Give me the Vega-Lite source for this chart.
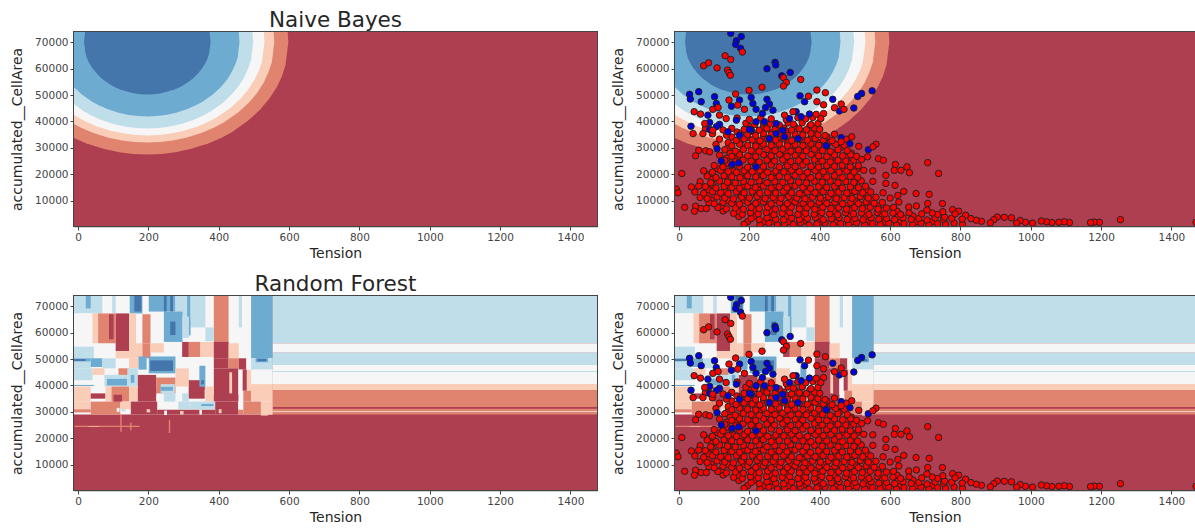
{"$schema":"https://vega.github.io/schema/vega-lite/v6.json","background":"white","padding":{"left":9,"top":8,"right":0,"bottom":1},"columns":2,"spacing":{"row":70,"column":78},"bounds":"flush",
"config":{"font":"DejaVu Sans","view":{"stroke":"#444","strokeWidth":2},"axis":{"grid":false,"labelOverlap":false,"domainColor":"#444","domainWidth":1.5,"tickColor":"#444","tickSize":4,"labelColor":"#444","labelFontSize":10.5,"titleColor":"#262626","titleFontSize":14,"titleFontWeight":"normal","zindex":1},"axisX":{"titlePadding":4},"title":{"fontSize":21.5,"fontWeight":"normal","color":"#262626","offset":1}},
"datasets":{
"base":[{"x":-20,"x2":1500,"y":0,"y2":74000,"k":"r"}],
"nb":[
{"k":"s","y":27500,"x":197,"x2":197},{"k":"s","y":27710,"x":157,"x2":237},{"k":"s","y":28350,"x":117,"x2":277},{"k":"s","y":29625,"x":72,"x2":322},{"k":"s","y":31750,"x":22,"x2":372},{"k":"s","y":33875,"x":-14,"x2":408},{"k":"s","y":36000,"x":-44,"x2":438},{"k":"s","y":40250,"x":-89,"x2":483},{"k":"s","y":44500,"x":-124,"x2":518},{"k":"s","y":48750,"x":-150,"x2":544},{"k":"s","y":53000,"x":-171,"x2":565},{"k":"s","y":57250,"x":-186,"x2":580},{"k":"s","y":61500,"x":-196,"x2":590},{"k":"s","y":70000,"x":-204,"x2":598},{"k":"s","y":74000,"x":-202,"x2":596},
{"k":"p","y":32000,"x":197,"x2":197},{"k":"p","y":32190,"x":161,"x2":233},{"k":"p","y":32760,"x":125,"x2":269},{"k":"p","y":33900,"x":84,"x2":310},{"k":"p","y":35800,"x":40,"x2":354},{"k":"p","y":37700,"x":7,"x2":387},{"k":"p","y":39600,"x":-20,"x2":414},{"k":"p","y":43400,"x":-61,"x2":455},{"k":"p","y":47200,"x":-92,"x2":486},{"k":"p","y":51000,"x":-116,"x2":510},{"k":"p","y":54800,"x":-134,"x2":528},{"k":"p","y":58600,"x":-147,"x2":541},{"k":"p","y":62400,"x":-157,"x2":551},{"k":"p","y":70000,"x":-164,"x2":558},{"k":"p","y":74000,"x":-162,"x2":556},
{"k":"w","y":34700,"x":197,"x2":197},{"k":"w","y":34880,"x":164,"x2":230},{"k":"w","y":35400,"x":131,"x2":263},{"k":"w","y":36470,"x":93,"x2":301},{"k":"w","y":38230,"x":52,"x2":342},{"k":"w","y":40000,"x":22,"x2":372},{"k":"w","y":41760,"x":-3,"x2":397},{"k":"w","y":45290,"x":-41,"x2":435},{"k":"w","y":48820,"x":-69,"x2":463},{"k":"w","y":52350,"x":-91,"x2":485},{"k":"w","y":55880,"x":-108,"x2":502},{"k":"w","y":59410,"x":-121,"x2":515},{"k":"w","y":62940,"x":-129,"x2":523},{"k":"w","y":70000,"x":-136,"x2":530},{"k":"w","y":74000,"x":-134,"x2":528},
{"k":"l","y":37340,"x":197,"x2":197},{"k":"l","y":37500,"x":167,"x2":227},{"k":"l","y":37990,"x":137,"x2":257},{"k":"l","y":38970,"x":103,"x2":291},{"k":"l","y":40600,"x":66,"x2":328},{"k":"l","y":42240,"x":38,"x2":356},{"k":"l","y":43870,"x":16,"x2":378},{"k":"l","y":47140,"x":-18,"x2":412},{"k":"l","y":50400,"x":-44,"x2":438},{"k":"l","y":53670,"x":-64,"x2":458},{"k":"l","y":56940,"x":-79,"x2":473},{"k":"l","y":60200,"x":-90,"x2":484},{"k":"l","y":63470,"x":-98,"x2":492},{"k":"l","y":70000,"x":-104,"x2":498},{"k":"l","y":74000,"x":-102,"x2":496},
{"k":"m","y":41900,"x":197,"x2":197},{"k":"m","y":42040,"x":171,"x2":223},{"k":"m","y":42460,"x":145,"x2":249},{"k":"m","y":43300,"x":115,"x2":279},{"k":"m","y":44710,"x":83,"x2":311},{"k":"m","y":46115,"x":59,"x2":335},{"k":"m","y":47520,"x":40,"x2":354},{"k":"m","y":50330,"x":10,"x2":384},{"k":"m","y":53140,"x":-13,"x2":407},{"k":"m","y":55950,"x":-30,"x2":424},{"k":"m","y":58760,"x":-43,"x2":437},{"k":"m","y":61570,"x":-53,"x2":447},{"k":"m","y":64380,"x":-60,"x2":454},{"k":"m","y":70000,"x":-65,"x2":459},{"k":"m","y":74000,"x":-63,"x2":457},
{"k":"d","y":50250,"x":197,"x2":197},{"k":"d","y":50350,"x":179,"x2":215},{"k":"d","y":50645,"x":161,"x2":233},{"k":"d","y":51240,"x":141,"x2":253},{"k":"d","y":52225,"x":118,"x2":276},{"k":"d","y":53200,"x":102,"x2":292},{"k":"d","y":54200,"x":89,"x2":305},{"k":"d","y":56175,"x":68,"x2":326},{"k":"d","y":58150,"x":53,"x2":341},{"k":"d","y":60125,"x":41,"x2":353},{"k":"d","y":62100,"x":32,"x2":362},{"k":"d","y":64075,"x":25,"x2":369},{"k":"d","y":66050,"x":21,"x2":373},{"k":"d","y":70000,"x":17,"x2":377},{"k":"d","y":74000,"x":20,"x2":374}
],
"rf":[
{"x":-20,"x2":1500,"y":0,"y2":74000,"k":"r"},
{"x":-20,"x2":553,"y":29000,"y2":74000,"k":"w"},
{"x":553,"x2":1500,"y":56000,"y2":74000,"k":"l"},{"x":553,"x2":1500,"y":52400,"y2":56000,"k":"w"},{"x":553,"x2":1500,"y":47800,"y2":52400,"k":"l"},{"x":553,"x2":1500,"y":45500,"y2":47800,"k":"w"},{"x":553,"x2":1500,"y":45100,"y2":45500,"k":"l"},{"x":553,"x2":1500,"y":40600,"y2":45100,"k":"w"},{"x":553,"x2":1500,"y":38300,"y2":40600,"k":"p"},{"x":553,"x2":1500,"y":31800,"y2":38300,"k":"s"},{"x":553,"x2":1500,"y":31200,"y2":31800,"k":"r"},{"x":553,"x2":1500,"y":30400,"y2":31200,"k":"s"},{"x":553,"x2":1500,"y":29800,"y2":30400,"k":"p"},{"x":553,"x2":1500,"y":29000,"y2":29800,"k":"s"},
{"x":-20,"x2":69,"y":67300,"y2":74000,"k":"l"},{"x":22,"x2":36,"y":69200,"y2":74000,"k":"m"},{"x":97,"x2":107,"y":67300,"y2":74000,"k":"l"},{"x":147,"x2":183,"y":67300,"y2":74000,"k":"m"},{"x":160,"x2":180,"y":68000,"y2":74000,"k":"d"},{"x":201,"x2":277,"y":68000,"y2":74000,"k":"m"},{"x":244,"x2":252,"y":68000,"y2":74000,"k":"d"},{"x":262,"x2":270,"y":68000,"y2":74000,"k":"d"},{"x":277,"x2":310,"y":66000,"y2":74000,"k":"l"},{"x":310,"x2":320,"y":66000,"y2":74000,"k":"m"},{"x":320,"x2":362,"y":62000,"y2":74000,"k":"l"},{"x":386,"x2":428,"y":50300,"y2":74000,"k":"s"},{"x":457,"x2":466,"y":62000,"y2":74000,"k":"l"},
{"x":-20,"x2":41,"y":56000,"y2":67300,"k":"w"},{"x":41,"x2":57,"y":56000,"y2":67300,"k":"p"},{"x":57,"x2":107,"y":56000,"y2":67300,"k":"s"},{"x":88,"x2":101,"y":57500,"y2":67000,"k":"r"},{"x":107,"x2":145,"y":53000,"y2":67300,"k":"r"},{"x":145,"x2":165,"y":55000,"y2":67300,"k":"p"},{"x":183,"x2":206,"y":56000,"y2":67000,"k":"s"},{"x":244,"x2":297,"y":56500,"y2":68000,"k":"m"},{"x":262,"x2":277,"y":59100,"y2":64200,"k":"d"},{"x":297,"x2":315,"y":58000,"y2":66000,"k":"l"},{"x":315,"x2":320,"y":59000,"y2":66000,"k":"m"},{"x":362,"x2":386,"y":56800,"y2":62000,"k":"l"},
{"x":-20,"x2":45,"y":50300,"y2":54700,"k":"l"},{"x":107,"x2":145,"y":50300,"y2":53000,"k":"p"},{"x":145,"x2":183,"y":50300,"y2":56000,"k":"p"},{"x":183,"x2":206,"y":50300,"y2":56000,"k":"s"},{"x":206,"x2":244,"y":52500,"y2":56000,"k":"p"},{"x":296,"x2":315,"y":50800,"y2":56500,"k":"r"},{"x":315,"x2":348,"y":50800,"y2":56500,"k":"s"},{"x":348,"x2":386,"y":50800,"y2":56500,"k":"p"},{"x":386,"x2":428,"y":50300,"y2":56500,"k":"r"},{"x":428,"x2":457,"y":50300,"y2":56000,"k":"p"},
{"x":-20,"x2":36,"y":49000,"y2":50300,"k":"m"},{"x":-20,"x2":22,"y":49300,"y2":50000,"k":"d"},{"x":-20,"x2":36,"y":46500,"y2":49000,"k":"l"},{"x":36,"x2":69,"y":47000,"y2":50300,"k":"m"},{"x":69,"x2":107,"y":46500,"y2":50300,"k":"l"},{"x":145,"x2":172,"y":46500,"y2":50300,"k":"p"},{"x":172,"x2":195,"y":46000,"y2":51000,"k":"m"},{"x":201,"x2":277,"y":44600,"y2":51000,"k":"m"},{"x":205,"x2":270,"y":45500,"y2":49500,"k":"d"},{"x":386,"x2":428,"y":46500,"y2":50300,"k":"r"},{"x":428,"x2":457,"y":46500,"y2":50300,"k":"s"},{"x":457,"x2":478,"y":46000,"y2":50300,"k":"r"},
{"x":492,"x2":553,"y":50300,"y2":74000,"k":"m"},{"x":492,"x2":553,"y":46000,"y2":50300,"k":"l"},{"x":505,"x2":540,"y":48800,"y2":50500,"k":"m"},{"x":510,"x2":535,"y":49200,"y2":50000,"k":"d"},{"x":500,"x2":540,"y":45300,"y2":45700,"k":"l"},{"x":492,"x2":553,"y":40500,"y2":44000,"k":"w"},{"x":492,"x2":553,"y":44000,"y2":46000,"k":"w"},
{"x":-20,"x2":41,"y":42000,"y2":46500,"k":"l"},{"x":-20,"x2":45,"y":39800,"y2":40200,"k":"m"},{"x":41,"x2":75,"y":44000,"y2":46500,"k":"p"},{"x":75,"x2":140,"y":39600,"y2":44000,"k":"l"},{"x":82,"x2":140,"y":40000,"y2":42500,"k":"m"},{"x":115,"x2":145,"y":44000,"y2":46500,"k":"s"},{"x":140,"x2":170,"y":39600,"y2":46500,"k":"l"},{"x":150,"x2":160,"y":41000,"y2":44000,"k":"m"},{"x":170,"x2":222,"y":36000,"y2":44000,"k":"r"},{"x":222,"x2":277,"y":37000,"y2":43000,"k":"s"},{"x":235,"x2":275,"y":37000,"y2":40500,"k":"l"},{"x":235,"x2":270,"y":38000,"y2":39500,"k":"m"},{"x":277,"x2":315,"y":39600,"y2":46500,"k":"p"},{"x":315,"x2":348,"y":36000,"y2":42000,"k":"r"},{"x":345,"x2":362,"y":38500,"y2":47500,"k":"m"},{"x":350,"x2":358,"y":40500,"y2":42000,"k":"d"},{"x":386,"x2":456,"y":36000,"y2":46500,"k":"r"},{"x":430,"x2":438,"y":37000,"y2":45000,"k":"p"},{"x":456,"x2":468,"y":36000,"y2":46000,"k":"w"},{"x":468,"x2":480,"y":38000,"y2":46000,"k":"r"},{"x":480,"x2":492,"y":35000,"y2":46000,"k":"p"},
{"x":-20,"x2":36,"y":33900,"y2":39600,"k":"p"},{"x":36,"x2":78,"y":35000,"y2":37000,"k":"r"},{"x":78,"x2":95,"y":33900,"y2":39600,"k":"p"},{"x":95,"x2":145,"y":33900,"y2":39600,"k":"s"},{"x":101,"x2":125,"y":33500,"y2":36500,"k":"r"},{"x":145,"x2":170,"y":33900,"y2":39600,"k":"p"},{"x":170,"x2":222,"y":33900,"y2":39000,"k":"r"},{"x":244,"x2":277,"y":33900,"y2":37000,"k":"l"},{"x":296,"x2":315,"y":33900,"y2":37000,"k":"l"},{"x":315,"x2":360,"y":35000,"y2":39500,"k":"r"},{"x":362,"x2":386,"y":33900,"y2":39600,"k":"p"},{"x":386,"x2":456,"y":33900,"y2":36500,"k":"r"},{"x":470,"x2":492,"y":33900,"y2":38000,"k":"s"},{"x":492,"x2":553,"y":33900,"y2":40500,"k":"p"},
{"x":-20,"x2":36,"y":31000,"y2":33900,"k":"p"},{"x":-20,"x2":36,"y":29800,"y2":31000,"k":"s"},{"x":36,"x2":120,"y":29000,"y2":33900,"k":"s"},{"x":120,"x2":150,"y":31000,"y2":33900,"k":"p"},{"x":150,"x2":225,"y":29000,"y2":33900,"k":"r"},{"x":285,"x2":320,"y":31000,"y2":33900,"k":"l"},{"x":320,"x2":390,"y":31000,"y2":33900,"k":"l"},{"x":350,"x2":385,"y":32200,"y2":33000,"k":"m"},{"x":390,"x2":455,"y":29000,"y2":33900,"k":"r"},{"x":470,"x2":520,"y":29000,"y2":33900,"k":"s"},{"x":520,"x2":553,"y":29000,"y2":33900,"k":"p"},{"x":225,"x2":390,"y":29000,"y2":30800,"k":"r"},{"x":455,"x2":470,"y":29000,"y2":30800,"k":"s"},
{"x":110,"x2":118,"y":30000,"y2":31500,"k":"w"},{"x":125,"x2":135,"y":30200,"y2":31000,"k":"l"},{"x":195,"x2":205,"y":29800,"y2":31000,"k":"p"},{"x":245,"x2":253,"y":28800,"y2":30500,"k":"w"},{"x":290,"x2":300,"y":29000,"y2":30300,"k":"p"},{"x":345,"x2":352,"y":29000,"y2":30800,"k":"w"},{"x":400,"x2":408,"y":29500,"y2":31000,"k":"p"},{"x":520,"x2":540,"y":28600,"y2":29400,"k":"p"},
{"x":-10,"x2":175,"y":24300,"y2":24700,"k":"s"},{"x":30,"x2":60,"y":24400,"y2":24600,"k":"p"},{"x":120,"x2":124,"y":22500,"y2":29000,"k":"s"},{"x":148,"x2":152,"y":23000,"y2":26000,"k":"s"},{"x":258,"x2":262,"y":22000,"y2":27000,"k":"s"}
],
"pts":[
{"x":195,"y":2100,"k":"R"},{"x":240,"y":1900,"k":"R"},{"x":265,"y":2200,"k":"R"},{"x":310,"y":2000,"k":"R"},{"x":355,"y":2300,"k":"R"},{"x":402,"y":1900,"k":"R"},{"x":448,"y":2200,"k":"R"},{"x":492,"y":2000,"k":"R"},{"x":540,"y":2300,"k":"R"},{"x":585,"y":1900,"k":"R"},{"x":630,"y":2200,"k":"R"},{"x":675,"y":2000,"k":"R"},{"x":720,"y":2100,"k":"R"},
{"x":170,"y":4000,"k":"R"},{"x":215,"y":4200,"k":"R"},{"x":262,"y":3900,"k":"R"},{"x":308,"y":4300,"k":"R"},{"x":352,"y":4000,"k":"R"},{"x":398,"y":4200,"k":"R"},{"x":442,"y":3900,"k":"R"},{"x":488,"y":4200,"k":"R"},{"x":530,"y":4000,"k":"R"},{"x":578,"y":4300,"k":"R"},{"x":622,"y":3900,"k":"R"},{"x":665,"y":4200,"k":"R"},
{"x":125,"y":6100,"k":"R"},{"x":170,"y":5900,"k":"R"},{"x":216,"y":6200,"k":"R"},{"x":262,"y":6000,"k":"R"},{"x":308,"y":6300,"k":"R"},{"x":353,"y":5900,"k":"R"},{"x":398,"y":6200,"k":"R"},{"x":443,"y":6000,"k":"R"},{"x":488,"y":6300,"k":"R"},{"x":533,"y":5900,"k":"R"},{"x":578,"y":6200,"k":"R"},{"x":620,"y":6000,"k":"R"},
{"x":120,"y":8000,"k":"R"},{"x":162,"y":8200,"k":"R"},{"x":206,"y":7900,"k":"R"},{"x":250,"y":8300,"k":"R"},{"x":296,"y":8000,"k":"R"},{"x":342,"y":8200,"k":"R"},{"x":386,"y":7900,"k":"R"},{"x":432,"y":8200,"k":"R"},{"x":476,"y":8000,"k":"R"},{"x":522,"y":8300,"k":"R"},{"x":566,"y":7900,"k":"R"},
{"x":92,"y":10100,"k":"R"},{"x":140,"y":9900,"k":"R"},{"x":185,"y":10200,"k":"R"},{"x":230,"y":10000,"k":"R"},{"x":276,"y":10300,"k":"R"},{"x":320,"y":9900,"k":"R"},{"x":365,"y":10200,"k":"R"},{"x":410,"y":10000,"k":"R"},{"x":455,"y":10300,"k":"R"},{"x":500,"y":9900,"k":"R"},{"x":546,"y":10200,"k":"R"},
{"x":85,"y":12000,"k":"R"},{"x":130,"y":12200,"k":"R"},{"x":175,"y":11900,"k":"R"},{"x":220,"y":12300,"k":"R"},{"x":262,"y":12000,"k":"R"},{"x":308,"y":12200,"k":"R"},{"x":352,"y":11900,"k":"R"},{"x":398,"y":12200,"k":"R"},{"x":442,"y":12000,"k":"R"},{"x":488,"y":12300,"k":"R"},{"x":534,"y":11900,"k":"R"},
{"x":85,"y":14100,"k":"R"},{"x":130,"y":13900,"k":"R"},{"x":178,"y":14200,"k":"R"},{"x":224,"y":14000,"k":"R"},{"x":268,"y":14300,"k":"R"},{"x":312,"y":13900,"k":"R"},{"x":358,"y":14200,"k":"R"},{"x":402,"y":14000,"k":"R"},{"x":446,"y":14300,"k":"R"},{"x":490,"y":13900,"k":"R"},{"x":535,"y":14200,"k":"R"},
{"x":95,"y":16000,"k":"R"},{"x":140,"y":16200,"k":"R"},{"x":184,"y":15900,"k":"R"},{"x":228,"y":16300,"k":"R"},{"x":274,"y":16000,"k":"R"},{"x":318,"y":16200,"k":"R"},{"x":362,"y":15900,"k":"R"},{"x":408,"y":16200,"k":"R"},{"x":452,"y":16000,"k":"R"},{"x":498,"y":16300,"k":"R"},
{"x":95,"y":18100,"k":"R"},{"x":140,"y":17900,"k":"R"},{"x":184,"y":18200,"k":"R"},{"x":230,"y":18000,"k":"R"},{"x":274,"y":18300,"k":"R"},{"x":318,"y":17900,"k":"R"},{"x":364,"y":18200,"k":"R"},{"x":408,"y":18000,"k":"R"},{"x":452,"y":18300,"k":"R"},{"x":498,"y":17900,"k":"R"},
{"x":85,"y":20000,"k":"R"},{"x":130,"y":20200,"k":"R"},{"x":175,"y":19900,"k":"R"},{"x":220,"y":20300,"k":"R"},{"x":264,"y":20000,"k":"R"},{"x":308,"y":20200,"k":"R"},{"x":354,"y":19900,"k":"R"},{"x":398,"y":20200,"k":"R"},{"x":442,"y":20000,"k":"R"},{"x":488,"y":20300,"k":"R"},
{"x":110,"y":22100,"k":"R"},{"x":152,"y":21900,"k":"R"},{"x":196,"y":22200,"k":"R"},{"x":240,"y":22000,"k":"R"},{"x":286,"y":22300,"k":"R"},{"x":330,"y":21900,"k":"R"},{"x":376,"y":22200,"k":"R"},{"x":420,"y":22000,"k":"R"},{"x":466,"y":22300,"k":"R"},{"x":505,"y":21900,"k":"R"},
{"x":140,"y":24000,"k":"R"},{"x":172,"y":24200,"k":"R"},{"x":216,"y":23900,"k":"R"},{"x":262,"y":24300,"k":"R"},{"x":306,"y":24000,"k":"R"},{"x":352,"y":24200,"k":"R"},{"x":396,"y":23900,"k":"R"},{"x":442,"y":24200,"k":"R"},{"x":486,"y":24000,"k":"R"},
{"x":135,"y":26100,"k":"R"},{"x":162,"y":25900,"k":"R"},{"x":206,"y":26200,"k":"R"},{"x":252,"y":26000,"k":"R"},{"x":296,"y":26300,"k":"R"},{"x":342,"y":25900,"k":"R"},{"x":386,"y":26200,"k":"R"},{"x":430,"y":26000,"k":"R"},{"x":476,"y":26300,"k":"R"},
{"x":145,"y":28000,"k":"R"},{"x":172,"y":28200,"k":"R"},{"x":218,"y":27900,"k":"R"},{"x":262,"y":28300,"k":"R"},{"x":306,"y":28000,"k":"R"},{"x":352,"y":28200,"k":"R"},{"x":396,"y":27900,"k":"R"},{"x":440,"y":28200,"k":"R"},{"x":490,"y":28000,"k":"R"},
{"x":140,"y":30100,"k":"R"},{"x":184,"y":29900,"k":"R"},{"x":230,"y":30200,"k":"R"},{"x":274,"y":30000,"k":"R"},{"x":320,"y":30300,"k":"R"},{"x":364,"y":29900,"k":"R"},{"x":408,"y":30200,"k":"R"},{"x":458,"y":30000,"k":"R"},
{"x":140,"y":32000,"k":"R"},{"x":174,"y":32200,"k":"R"},{"x":218,"y":31900,"k":"R"},{"x":264,"y":32300,"k":"R"},{"x":308,"y":32000,"k":"R"},{"x":352,"y":32200,"k":"R"},{"x":398,"y":31900,"k":"R"},{"x":430,"y":32200,"k":"R"},{"x":460,"y":32000,"k":"R"},
{"x":150,"y":34100,"k":"R"},{"x":196,"y":33900,"k":"R"},{"x":240,"y":34200,"k":"R"},{"x":286,"y":34000,"k":"R"},{"x":330,"y":34300,"k":"R"},{"x":376,"y":33900,"k":"R"},{"x":420,"y":34200,"k":"R"},
{"x":165,"y":36000,"k":"R"},{"x":208,"y":36200,"k":"R"},{"x":262,"y":35900,"k":"R"},{"x":308,"y":36300,"k":"R"},{"x":352,"y":36000,"k":"R"},{"x":392,"y":36200,"k":"R"},
{"x":200,"y":38100,"k":"R"},{"x":240,"y":37900,"k":"R"},{"x":285,"y":38200,"k":"R"},{"x":330,"y":38000,"k":"R"},{"x":372,"y":38300,"k":"R"},
{"x":185,"y":1100,"k":"R"},{"x":230,"y":900,"k":"R"},{"x":255,"y":1500,"k":"R"},{"x":280,"y":800,"k":"R"},{"x":300,"y":1300,"k":"R"},{"x":325,"y":1000,"k":"R"},{"x":345,"y":1600,"k":"R"},{"x":370,"y":800,"k":"R"},{"x":392,"y":1200,"k":"R"},{"x":415,"y":1500,"k":"R"},{"x":438,"y":900,"k":"R"},{"x":460,"y":1300,"k":"R"},{"x":482,"y":1000,"k":"R"},{"x":505,"y":1600,"k":"R"},{"x":528,"y":900,"k":"R"},{"x":550,"y":1300,"k":"R"},{"x":572,"y":1000,"k":"R"},{"x":596,"y":1500,"k":"R"},{"x":618,"y":800,"k":"R"},{"x":640,"y":1300,"k":"R"},{"x":664,"y":1000,"k":"R"},{"x":688,"y":1500,"k":"R"},{"x":710,"y":900,"k":"R"},{"x":735,"y":1300,"k":"R"},{"x":758,"y":1100,"k":"R"},{"x":782,"y":1500,"k":"R"},{"x":806,"y":1000,"k":"R"},
{"x":205,"y":3200,"k":"R"},{"x":228,"y":2800,"k":"R"},{"x":250,"y":3500,"k":"R"},{"x":275,"y":3000,"k":"R"},{"x":297,"y":2700,"k":"R"},{"x":320,"y":3400,"k":"R"},{"x":342,"y":2900,"k":"R"},{"x":365,"y":3300,"k":"R"},{"x":388,"y":3600,"k":"R"},{"x":410,"y":2800,"k":"R"},{"x":433,"y":3200,"k":"R"},{"x":455,"y":3500,"k":"R"},{"x":478,"y":2900,"k":"R"},{"x":500,"y":3300,"k":"R"},{"x":523,"y":2700,"k":"R"},{"x":546,"y":3500,"k":"R"},{"x":568,"y":3000,"k":"R"},{"x":590,"y":3300,"k":"R"},{"x":613,"y":2800,"k":"R"},{"x":637,"y":3500,"k":"R"},{"x":660,"y":2900,"k":"R"},{"x":682,"y":3300,"k":"R"},{"x":705,"y":2700,"k":"R"},{"x":728,"y":3400,"k":"R"},{"x":752,"y":3000,"k":"R"},{"x":775,"y":3300,"k":"R"},
{"x":155,"y":5200,"k":"R"},{"x":180,"y":4800,"k":"R"},{"x":203,"y":5400,"k":"R"},{"x":225,"y":5000,"k":"R"},{"x":248,"y":5500,"k":"R"},{"x":270,"y":4700,"k":"R"},{"x":293,"y":5200,"k":"R"},{"x":315,"y":5500,"k":"R"},{"x":338,"y":4800,"k":"R"},{"x":360,"y":5200,"k":"R"},{"x":384,"y":4900,"k":"R"},{"x":406,"y":5500,"k":"R"},{"x":428,"y":5000,"k":"R"},{"x":451,"y":4700,"k":"R"},{"x":473,"y":5400,"k":"R"},{"x":496,"y":5000,"k":"R"},{"x":518,"y":5300,"k":"R"},{"x":540,"y":4800,"k":"R"},{"x":563,"y":5500,"k":"R"},{"x":585,"y":5000,"k":"R"},{"x":608,"y":5300,"k":"R"},{"x":630,"y":4800,"k":"R"},{"x":654,"y":5400,"k":"R"},
{"x":110,"y":7400,"k":"R"},{"x":135,"y":6900,"k":"R"},{"x":160,"y":7200,"k":"R"},{"x":183,"y":6800,"k":"R"},{"x":205,"y":7400,"k":"R"},{"x":228,"y":7000,"k":"R"},{"x":252,"y":7500,"k":"R"},{"x":274,"y":6800,"k":"R"},{"x":297,"y":7200,"k":"R"},{"x":319,"y":7500,"k":"R"},{"x":342,"y":6900,"k":"R"},{"x":364,"y":7300,"k":"R"},{"x":386,"y":6800,"k":"R"},{"x":409,"y":7500,"k":"R"},{"x":432,"y":7000,"k":"R"},{"x":454,"y":7300,"k":"R"},{"x":476,"y":6800,"k":"R"},{"x":499,"y":7400,"k":"R"},{"x":521,"y":7000,"k":"R"},{"x":544,"y":7500,"k":"R"},{"x":566,"y":6800,"k":"R"},{"x":590,"y":7200,"k":"R"},
{"x":85,"y":9300,"k":"R"},{"x":100,"y":8800,"k":"R"},{"x":125,"y":9400,"k":"R"},{"x":150,"y":9000,"k":"R"},{"x":172,"y":8700,"k":"R"},{"x":195,"y":9400,"k":"R"},{"x":218,"y":9000,"k":"R"},{"x":240,"y":9500,"k":"R"},{"x":262,"y":8800,"k":"R"},{"x":286,"y":9300,"k":"R"},{"x":308,"y":8900,"k":"R"},{"x":330,"y":9500,"k":"R"},{"x":353,"y":9000,"k":"R"},{"x":375,"y":8700,"k":"R"},{"x":398,"y":9400,"k":"R"},{"x":420,"y":9000,"k":"R"},{"x":443,"y":9400,"k":"R"},{"x":465,"y":8800,"k":"R"},{"x":488,"y":9300,"k":"R"},{"x":510,"y":8900,"k":"R"},{"x":532,"y":9500,"k":"R"},{"x":555,"y":9000,"k":"R"},{"x":578,"y":9300,"k":"R"},
{"x":60,"y":11200,"k":"R"},{"x":80,"y":10800,"k":"R"},{"x":108,"y":11400,"k":"R"},{"x":130,"y":11000,"k":"R"},{"x":155,"y":10700,"k":"R"},{"x":178,"y":11300,"k":"R"},{"x":200,"y":11000,"k":"R"},{"x":222,"y":11500,"k":"R"},{"x":245,"y":10800,"k":"R"},{"x":268,"y":11200,"k":"R"},{"x":290,"y":10900,"k":"R"},{"x":312,"y":11500,"k":"R"},{"x":335,"y":11000,"k":"R"},{"x":358,"y":10700,"k":"R"},{"x":380,"y":11300,"k":"R"},{"x":402,"y":11000,"k":"R"},{"x":425,"y":11400,"k":"R"},{"x":447,"y":10800,"k":"R"},{"x":470,"y":11200,"k":"R"},{"x":492,"y":10900,"k":"R"},{"x":515,"y":11500,"k":"R"},{"x":538,"y":11000,"k":"R"},{"x":560,"y":11300,"k":"R"},
{"x":45,"y":13300,"k":"R"},{"x":70,"y":12800,"k":"R"},{"x":95,"y":13400,"k":"R"},{"x":118,"y":13000,"k":"R"},{"x":140,"y":12700,"k":"R"},{"x":163,"y":13400,"k":"R"},{"x":185,"y":13000,"k":"R"},{"x":208,"y":13500,"k":"R"},{"x":230,"y":12800,"k":"R"},{"x":252,"y":13200,"k":"R"},{"x":275,"y":12900,"k":"R"},{"x":297,"y":13500,"k":"R"},{"x":320,"y":13000,"k":"R"},{"x":342,"y":12700,"k":"R"},{"x":365,"y":13300,"k":"R"},{"x":387,"y":13000,"k":"R"},{"x":410,"y":13400,"k":"R"},{"x":432,"y":12800,"k":"R"},{"x":454,"y":13200,"k":"R"},{"x":477,"y":12900,"k":"R"},{"x":500,"y":13500,"k":"R"},{"x":522,"y":13000,"k":"R"},{"x":545,"y":13300,"k":"R"},
{"x":75,"y":15300,"k":"R"},{"x":105,"y":14800,"k":"R"},{"x":128,"y":15400,"k":"R"},{"x":150,"y":15000,"k":"R"},{"x":172,"y":14700,"k":"R"},{"x":195,"y":15400,"k":"R"},{"x":217,"y":15000,"k":"R"},{"x":240,"y":15500,"k":"R"},{"x":262,"y":14800,"k":"R"},{"x":285,"y":15200,"k":"R"},{"x":307,"y":14900,"k":"R"},{"x":330,"y":15500,"k":"R"},{"x":352,"y":15000,"k":"R"},{"x":374,"y":14700,"k":"R"},{"x":397,"y":15300,"k":"R"},{"x":420,"y":15000,"k":"R"},{"x":442,"y":15400,"k":"R"},{"x":464,"y":14800,"k":"R"},{"x":487,"y":15200,"k":"R"},{"x":510,"y":14900,"k":"R"},{"x":530,"y":15500,"k":"R"},
{"x":60,"y":17200,"k":"R"},{"x":90,"y":16800,"k":"R"},{"x":115,"y":17400,"k":"R"},{"x":138,"y":17000,"k":"R"},{"x":160,"y":16700,"k":"R"},{"x":183,"y":17300,"k":"R"},{"x":205,"y":17000,"k":"R"},{"x":228,"y":17500,"k":"R"},{"x":250,"y":16800,"k":"R"},{"x":272,"y":17200,"k":"R"},{"x":295,"y":16900,"k":"R"},{"x":317,"y":17500,"k":"R"},{"x":340,"y":17000,"k":"R"},{"x":362,"y":16700,"k":"R"},{"x":385,"y":17300,"k":"R"},{"x":407,"y":17000,"k":"R"},{"x":430,"y":17400,"k":"R"},{"x":452,"y":16800,"k":"R"},{"x":474,"y":17200,"k":"R"},{"x":497,"y":16900,"k":"R"},{"x":518,"y":17500,"k":"R"},
{"x":80,"y":19300,"k":"R"},{"x":105,"y":18800,"k":"R"},{"x":128,"y":19400,"k":"R"},{"x":150,"y":19000,"k":"R"},{"x":173,"y":18700,"k":"R"},{"x":195,"y":19400,"k":"R"},{"x":218,"y":19000,"k":"R"},{"x":240,"y":19500,"k":"R"},{"x":262,"y":18800,"k":"R"},{"x":285,"y":19200,"k":"R"},{"x":308,"y":18900,"k":"R"},{"x":330,"y":19500,"k":"R"},{"x":352,"y":19000,"k":"R"},{"x":375,"y":18700,"k":"R"},{"x":397,"y":19300,"k":"R"},{"x":420,"y":19000,"k":"R"},{"x":442,"y":19400,"k":"R"},{"x":465,"y":18800,"k":"R"},{"x":487,"y":19200,"k":"R"},{"x":508,"y":18900,"k":"R"},
{"x":70,"y":21300,"k":"R"},{"x":95,"y":20800,"k":"R"},{"x":118,"y":21400,"k":"R"},{"x":140,"y":21000,"k":"R"},{"x":163,"y":20700,"k":"R"},{"x":185,"y":21300,"k":"R"},{"x":208,"y":21000,"k":"R"},{"x":230,"y":21500,"k":"R"},{"x":252,"y":20800,"k":"R"},{"x":275,"y":21200,"k":"R"},{"x":298,"y":20900,"k":"R"},{"x":320,"y":21500,"k":"R"},{"x":342,"y":21000,"k":"R"},{"x":365,"y":20700,"k":"R"},{"x":387,"y":21300,"k":"R"},{"x":410,"y":21000,"k":"R"},{"x":432,"y":21400,"k":"R"},{"x":455,"y":20800,"k":"R"},{"x":477,"y":21200,"k":"R"},{"x":498,"y":20900,"k":"R"},{"x":525,"y":21500,"k":"R"},
{"x":100,"y":23300,"k":"R"},{"x":125,"y":22800,"k":"R"},{"x":150,"y":23400,"k":"R"},{"x":172,"y":23000,"k":"R"},{"x":195,"y":22700,"k":"R"},{"x":218,"y":23400,"k":"R"},{"x":240,"y":23000,"k":"R"},{"x":262,"y":23500,"k":"R"},{"x":285,"y":22800,"k":"R"},{"x":308,"y":23200,"k":"R"},{"x":330,"y":22900,"k":"R"},{"x":352,"y":23500,"k":"R"},{"x":375,"y":23000,"k":"R"},{"x":397,"y":22700,"k":"R"},{"x":420,"y":23300,"k":"R"},{"x":442,"y":23000,"k":"R"},{"x":464,"y":23400,"k":"R"},{"x":487,"y":22800,"k":"R"},{"x":510,"y":23200,"k":"R"},
{"x":130,"y":25300,"k":"R"},{"x":160,"y":24800,"k":"R"},{"x":182,"y":25400,"k":"R"},{"x":205,"y":25000,"k":"R"},{"x":228,"y":24700,"k":"R"},{"x":250,"y":25400,"k":"R"},{"x":272,"y":25000,"k":"R"},{"x":295,"y":25500,"k":"R"},{"x":318,"y":24800,"k":"R"},{"x":340,"y":25200,"k":"R"},{"x":362,"y":24900,"k":"R"},{"x":385,"y":25500,"k":"R"},{"x":407,"y":25000,"k":"R"},{"x":430,"y":24700,"k":"R"},{"x":452,"y":25300,"k":"R"},{"x":474,"y":25000,"k":"R"},{"x":497,"y":25400,"k":"R"},
{"x":115,"y":27300,"k":"R"},{"x":150,"y":26800,"k":"R"},{"x":172,"y":27400,"k":"R"},{"x":195,"y":27000,"k":"R"},{"x":218,"y":26700,"k":"R"},{"x":240,"y":27400,"k":"R"},{"x":262,"y":27000,"k":"R"},{"x":285,"y":27500,"k":"R"},{"x":307,"y":26800,"k":"R"},{"x":330,"y":27200,"k":"R"},{"x":352,"y":26900,"k":"R"},{"x":375,"y":27500,"k":"R"},{"x":397,"y":27000,"k":"R"},{"x":420,"y":26700,"k":"R"},{"x":442,"y":27300,"k":"R"},{"x":465,"y":27000,"k":"R"},{"x":488,"y":27400,"k":"R"},{"x":505,"y":26800,"k":"R"},
{"x":130,"y":29300,"k":"R"},{"x":160,"y":28800,"k":"R"},{"x":183,"y":29400,"k":"R"},{"x":205,"y":29000,"k":"R"},{"x":228,"y":28700,"k":"R"},{"x":250,"y":29400,"k":"R"},{"x":273,"y":29000,"k":"R"},{"x":295,"y":29500,"k":"R"},{"x":318,"y":28800,"k":"R"},{"x":340,"y":29200,"k":"R"},{"x":362,"y":28900,"k":"R"},{"x":385,"y":29500,"k":"R"},{"x":408,"y":29000,"k":"R"},{"x":430,"y":28700,"k":"R"},{"x":452,"y":29300,"k":"R"},{"x":478,"y":29000,"k":"R"},
{"x":105,"y":31300,"k":"R"},{"x":150,"y":30800,"k":"R"},{"x":172,"y":31400,"k":"R"},{"x":195,"y":31000,"k":"R"},{"x":218,"y":30700,"k":"R"},{"x":240,"y":31400,"k":"R"},{"x":262,"y":31000,"k":"R"},{"x":285,"y":31500,"k":"R"},{"x":308,"y":30800,"k":"R"},{"x":330,"y":31200,"k":"R"},{"x":352,"y":30900,"k":"R"},{"x":375,"y":31500,"k":"R"},{"x":397,"y":31000,"k":"R"},{"x":420,"y":30700,"k":"R"},{"x":445,"y":31300,"k":"R"},{"x":470,"y":31000,"k":"R"},
{"x":115,"y":33300,"k":"R"},{"x":162,"y":32800,"k":"R"},{"x":185,"y":33400,"k":"R"},{"x":208,"y":33000,"k":"R"},{"x":230,"y":32700,"k":"R"},{"x":252,"y":33400,"k":"R"},{"x":275,"y":33000,"k":"R"},{"x":298,"y":33500,"k":"R"},{"x":320,"y":32800,"k":"R"},{"x":342,"y":33200,"k":"R"},{"x":365,"y":32900,"k":"R"},{"x":387,"y":33500,"k":"R"},{"x":410,"y":33000,"k":"R"},{"x":435,"y":32700,"k":"R"},{"x":475,"y":33300,"k":"R"},
{"x":95,"y":35300,"k":"R"},{"x":135,"y":34800,"k":"R"},{"x":175,"y":35400,"k":"R"},{"x":195,"y":35000,"k":"R"},{"x":218,"y":34700,"k":"R"},{"x":240,"y":35400,"k":"R"},{"x":262,"y":35000,"k":"R"},{"x":285,"y":35500,"k":"R"},{"x":308,"y":34800,"k":"R"},{"x":330,"y":35200,"k":"R"},{"x":352,"y":34900,"k":"R"},{"x":375,"y":35500,"k":"R"},{"x":395,"y":35000,"k":"R"},{"x":415,"y":34700,"k":"R"},
{"x":75,"y":37300,"k":"R"},{"x":125,"y":36800,"k":"R"},{"x":150,"y":37400,"k":"R"},{"x":185,"y":37000,"k":"R"},{"x":228,"y":36700,"k":"R"},{"x":250,"y":37400,"k":"R"},{"x":273,"y":37000,"k":"R"},{"x":298,"y":37500,"k":"R"},{"x":320,"y":36800,"k":"R"},{"x":342,"y":37200,"k":"R"},{"x":362,"y":36900,"k":"R"},{"x":385,"y":37500,"k":"R"},{"x":400,"y":37000,"k":"R"},
{"x":190,"y":39300,"k":"R"},{"x":215,"y":38800,"k":"R"},{"x":240,"y":39400,"k":"R"},{"x":260,"y":39000,"k":"R"},{"x":285,"y":38700,"k":"R"},{"x":310,"y":39400,"k":"R"},{"x":325,"y":39000,"k":"R"},{"x":350,"y":39500,"k":"R"},{"x":375,"y":38800,"k":"R"},{"x":395,"y":39200,"k":"R"},
{"x":165,"y":41300,"k":"R"},{"x":200,"y":40800,"k":"R"},{"x":232,"y":41400,"k":"R"},{"x":262,"y":41000,"k":"R"},{"x":305,"y":40700,"k":"R"},{"x":338,"y":41400,"k":"R"},{"x":360,"y":41000,"k":"R"},{"x":380,"y":41500,"k":"R"},
{"x":147,"y":73400,"k":"B"},{"x":177,"y":72200,"k":"B"},{"x":163,"y":70600,"k":"B"},{"x":161,"y":69200,"k":"B"},{"x":175,"y":67700,"k":"B"},{"x":273,"y":62400,"k":"B"},{"x":275,"y":61400,"k":"B"},{"x":250,"y":60000,"k":"B"},{"x":316,"y":58600,"k":"B"},{"x":292,"y":57300,"k":"B"},{"x":549,"y":51600,"k":"B"},{"x":519,"y":50600,"k":"B"},{"x":508,"y":49500,"k":"B"},{"x":497,"y":45100,"k":"B"},{"x":456,"y":44000,"k":"B"},{"x":437,"y":48400,"k":"B"},{"x":357,"y":47500,"k":"B"},{"x":344,"y":49700,"k":"B"},{"x":30,"y":50300,"k":"B"},{"x":32,"y":48500,"k":"B"},{"x":56,"y":51300,"k":"B"},{"x":63,"y":47500,"k":"B"},{"x":101,"y":49400,"k":"B"},{"x":106,"y":46800,"k":"B"},{"x":34,"y":38200,"k":"B"},{"x":82,"y":42400,"k":"B"},{"x":87,"y":39600,"k":"B"},{"x":115,"y":38900,"k":"B"},{"x":106,"y":38000,"k":"B"},{"x":87,"y":37000,"k":"B"},{"x":139,"y":36100,"k":"B"},{"x":149,"y":45800,"k":"B"},{"x":172,"y":48100,"k":"B"},{"x":205,"y":49100,"k":"B"},{"x":210,"y":46800,"k":"B"},{"x":219,"y":44600,"k":"B"},{"x":250,"y":48400,"k":"B"},{"x":257,"y":46600,"k":"B"},{"x":246,"y":45300,"k":"B"},{"x":267,"y":44300,"k":"B"},{"x":237,"y":43000,"k":"B"},{"x":243,"y":39900,"k":"B"},{"x":276,"y":39200,"k":"B"},{"x":314,"y":41100,"k":"B"},{"x":333,"y":43700,"k":"B"},{"x":347,"y":41800,"k":"B"},{"x":371,"y":42800,"k":"B"},{"x":295,"y":36700,"k":"B"},{"x":300,"y":34200,"k":"B"},{"x":338,"y":33500,"k":"B"},{"x":163,"y":40500,"k":"B"},{"x":172,"y":34800,"k":"B"},{"x":205,"y":36700,"k":"B"},{"x":257,"y":33500,"k":"B"},{"x":108,"y":29700,"k":"B"},{"x":120,"y":25000,"k":"B"},{"x":151,"y":23800,"k":"B"},{"x":170,"y":24300,"k":"B"},{"x":219,"y":22800,"k":"B"},{"x":461,"y":33900,"k":"B"},{"x":486,"y":31600,"k":"B"},{"x":538,"y":29300,"k":"B"},{"x":418,"y":30800,"k":"B"},{"x":200,"y":37000,"k":"B"},{"x":276,"y":35400,"k":"B"},{"x":219,"y":39900,"k":"B"},
{"x":70,"y":61100,"k":"R"},{"x":84,"y":62200,"k":"R"},{"x":131,"y":64900,"k":"R"},{"x":147,"y":63500,"k":"R"},{"x":108,"y":60300,"k":"R"},{"x":138,"y":59500,"k":"R"},{"x":142,"y":58500,"k":"R"},{"x":146,"y":57500,"k":"R"},{"x":180,"y":66300,"k":"R"},{"x":297,"y":56600,"k":"R"},{"x":305,"y":54800,"k":"R"},{"x":297,"y":53400,"k":"R"},{"x":346,"y":55900,"k":"R"},{"x":236,"y":53000,"k":"R"},{"x":199,"y":51800,"k":"R"},{"x":161,"y":50400,"k":"R"},{"x":392,"y":51900,"k":"R"},{"x":416,"y":50900,"k":"R"},{"x":368,"y":49600,"k":"R"},{"x":392,"y":47500,"k":"R"},{"x":411,"y":46300,"k":"R"},{"x":461,"y":46600,"k":"R"},{"x":442,"y":45200,"k":"R"},{"x":469,"y":44600,"k":"R"},{"x":411,"y":43000,"k":"R"},{"x":390,"y":42700,"k":"R"},{"x":403,"y":41100,"k":"R"},{"x":43,"y":43700,"k":"R"},{"x":61,"y":42800,"k":"R"},{"x":96,"y":44600,"k":"R"},{"x":111,"y":45300,"k":"R"},{"x":142,"y":48100,"k":"R"},{"x":73,"y":39200,"k":"R"},{"x":40,"y":35400,"k":"R"},{"x":68,"y":35400,"k":"R"},{"x":96,"y":36700,"k":"R"},{"x":115,"y":42400,"k":"R"},{"x":134,"y":41100,"k":"R"},{"x":167,"y":46200,"k":"R"},{"x":186,"y":44600,"k":"R"},{"x":300,"y":42400,"k":"R"},{"x":324,"y":43700,"k":"R"},{"x":442,"y":35200,"k":"R"},{"x":491,"y":34200,"k":"R"},{"x":461,"y":32300,"k":"R"},{"x":511,"y":30600,"k":"R"},{"x":560,"y":31400,"k":"R"},{"x":551,"y":30400,"k":"R"},{"x":536,"y":26600,"k":"R"},{"x":519,"y":25600,"k":"R"},{"x":567,"y":25900,"k":"R"},{"x":581,"y":25300,"k":"R"},{"x":615,"y":23700,"k":"R"},{"x":648,"y":22800,"k":"R"},{"x":707,"y":24400,"k":"R"},{"x":738,"y":20300,"k":"R"},{"x":655,"y":20600,"k":"R"},{"x":631,"y":21500,"k":"R"},{"x":612,"y":21500,"k":"R"},{"x":551,"y":21300,"k":"R"},{"x":588,"y":19600,"k":"R"},{"x":614,"y":15800,"k":"R"},{"x":588,"y":16500,"k":"R"},{"x":551,"y":17300,"k":"R"},{"x":47,"y":27000,"k":"R"},{"x":56,"y":29100,"k":"R"},{"x":76,"y":28900,"k":"R"},{"x":87,"y":28500,"k":"R"},{"x":8,"y":20300,"k":"R"},{"x":35,"y":15200,"k":"R"},{"x":56,"y":15500,"k":"R"},{"x":-8,"y":14400,"k":"R"},{"x":-3,"y":13000,"k":"R"},{"x":16,"y":7500,"k":"R"},{"x":47,"y":7900,"k":"R"},{"x":44,"y":6000,"k":"R"},{"x":63,"y":7000,"k":"R"},{"x":78,"y":7000,"k":"R"},{"x":711,"y":12400,"k":"R"},{"x":639,"y":13500,"k":"R"},{"x":674,"y":12700,"k":"R"},{"x":622,"y":12000,"k":"R"},{"x":653,"y":7600,"k":"R"},{"x":707,"y":8900,"k":"R"},{"x":749,"y":8900,"k":"R"},{"x":778,"y":6600,"k":"R"},{"x":600,"y":11000,"k":"R"},{"x":580,"y":13000,"k":"R"},{"x":625,"y":9500,"k":"R"},{"x":675,"y":8000,"k":"R"},{"x":610,"y":7500,"k":"R"},
{"x":1255,"y":2800,"k":"R"},{"x":1195,"y":1800,"k":"R"},{"x":1180,"y":1900,"k":"R"},{"x":1170,"y":1700,"k":"R"},{"x":1110,"y":1700,"k":"R"},{"x":1095,"y":2000,"k":"R"},{"x":1080,"y":1800,"k":"R"},{"x":1060,"y":1700,"k":"R"},{"x":1045,"y":2000,"k":"R"},{"x":1030,"y":2300,"k":"R"},{"x":1005,"y":1500,"k":"R"},{"x":985,"y":1800,"k":"R"},{"x":970,"y":2500,"k":"R"},{"x":960,"y":1500,"k":"R"},{"x":945,"y":3500,"k":"R"},{"x":925,"y":3700,"k":"R"},{"x":905,"y":3800,"k":"R"},{"x":895,"y":2800,"k":"R"},{"x":885,"y":1600,"k":"R"},{"x":860,"y":2200,"k":"R"},{"x":845,"y":2600,"k":"R"},{"x":830,"y":3200,"k":"R"},{"x":815,"y":4500,"k":"R"},{"x":805,"y":3000,"k":"R"},{"x":795,"y":6000,"k":"R"},{"x":785,"y":5000,"k":"R"},{"x":755,"y":3800,"k":"R"},{"x":750,"y":5800,"k":"R"},{"x":735,"y":4800,"k":"R"},{"x":720,"y":5300,"k":"R"},{"x":705,"y":6500,"k":"R"},{"x":690,"y":5000,"k":"R"},{"x":1470,"y":1800,"k":"R"}
]},
"concat":[
{"title":"Naive Bayes","width":523,"height":194,"layer":[
{"data":{"name":"base"},"mark":{"type":"rect","clip":true},"encoding":{"x":{"field":"x","type":"quantitative","scale":{"domain":[-11.5,1475.5],"nice":false,"zero":false},"axis":{"title":"Tension","values":[0,200,400,600,800,1000,1200,1400],"format":"d"}},"x2":{"field":"x2"},"y":{"field":"y","type":"quantitative","scale":{"domain":[400,73900],"nice":false,"zero":false},"axis":{"title":"accumulated__CellArea","values":[10000,20000,30000,40000,50000,60000,70000],"format":"d","titlePadding":10,"labelOverlap":false}},"y2":{"field":"y2"},"color":{"field":"k","type":"nominal","legend":null,"scale":{"domain":["r","s","p","w","l","m","d","R","B"],"range":["#AE3F51","#E08470","#FACDB8","#F6F6F6","#C0DDEA","#6EABD1","#4576AB","#FF0000","#0000E0"]}}}},
{"data":{"name":"nb"},"mark":{"type":"area","orient":"horizontal","clip":true,"interpolate":"linear"},"encoding":{"y":{"field":"y","type":"quantitative","axis":{"title":"accumulated__CellArea","values":[10000,20000,30000,40000,50000,60000,70000],"format":"d","titlePadding":10,"labelOverlap":false}},"x":{"field":"x","type":"quantitative","axis":{"title":"Tension","values":[0,200,400,600,800,1000,1200,1400],"format":"d"}},"x2":{"field":"x2"},"color":{"field":"k","type":"nominal"}}}
]},
{"width":520,"height":194,"layer":[
{"data":{"name":"base"},"mark":{"type":"rect","clip":true},"encoding":{"x":{"field":"x","type":"quantitative","scale":{"domain":[-11.5,1467],"nice":false,"zero":false},"axis":{"title":"Tension","values":[0,200,400,600,800,1000,1200,1400],"format":"d"}},"x2":{"field":"x2"},"y":{"field":"y","type":"quantitative","scale":{"domain":[400,73900],"nice":false,"zero":false},"axis":{"title":"accumulated__CellArea","values":[10000,20000,30000,40000,50000,60000,70000],"format":"d","titlePadding":10,"labelOverlap":false}},"y2":{"field":"y2"},"color":{"field":"k","type":"nominal","legend":null,"scale":{"domain":["r","s","p","w","l","m","d","R","B"],"range":["#AE3F51","#E08470","#FACDB8","#F6F6F6","#C0DDEA","#6EABD1","#4576AB","#FF0000","#0000E0"]}}}},
{"data":{"name":"nb"},"mark":{"type":"area","orient":"horizontal","clip":true,"interpolate":"linear"},"encoding":{"y":{"field":"y","type":"quantitative","axis":{"title":"accumulated__CellArea","values":[10000,20000,30000,40000,50000,60000,70000],"format":"d","titlePadding":10,"labelOverlap":false}},"x":{"field":"x","type":"quantitative","axis":{"title":"Tension","values":[0,200,400,600,800,1000,1200,1400],"format":"d"}},"x2":{"field":"x2"},"color":{"field":"k","type":"nominal"}}},
{"data":{"name":"pts"},"mark":{"type":"point","filled":true,"clip":true,"size":42,"opacity":1,"stroke":"#222","strokeWidth":1},"encoding":{"x":{"field":"x","type":"quantitative","axis":{"title":"Tension","values":[0,200,400,600,800,1000,1200,1400],"format":"d"}},"y":{"field":"y","type":"quantitative","axis":{"title":"accumulated__CellArea","values":[10000,20000,30000,40000,50000,60000,70000],"format":"d","titlePadding":10,"labelOverlap":false}},"color":{"field":"k","type":"nominal"}}}
]},
{"title":"Random Forest","width":523,"height":194,"layer":[
{"data":{"name":"rf"},"mark":{"type":"rect","clip":true},"encoding":{"x":{"field":"x","type":"quantitative","scale":{"domain":[-11.5,1475.5],"nice":false,"zero":false},"axis":{"title":"Tension","values":[0,200,400,600,800,1000,1200,1400],"format":"d"}},"x2":{"field":"x2"},"y":{"field":"y","type":"quantitative","scale":{"domain":[400,73900],"nice":false,"zero":false},"axis":{"title":"accumulated__CellArea","values":[10000,20000,30000,40000,50000,60000,70000],"format":"d","titlePadding":10,"labelOverlap":false}},"y2":{"field":"y2"},"color":{"field":"k","type":"nominal","legend":null,"scale":{"domain":["r","s","p","w","l","m","d","R","B"],"range":["#AE3F51","#E08470","#FACDB8","#F6F6F6","#C0DDEA","#6EABD1","#4576AB","#FF0000","#0000E0"]}}}}
]},
{"width":520,"height":194,"layer":[
{"data":{"name":"rf"},"mark":{"type":"rect","clip":true},"encoding":{"x":{"field":"x","type":"quantitative","scale":{"domain":[-11.5,1467],"nice":false,"zero":false},"axis":{"title":"Tension","values":[0,200,400,600,800,1000,1200,1400],"format":"d"}},"x2":{"field":"x2"},"y":{"field":"y","type":"quantitative","scale":{"domain":[400,73900],"nice":false,"zero":false},"axis":{"title":"accumulated__CellArea","values":[10000,20000,30000,40000,50000,60000,70000],"format":"d","titlePadding":10,"labelOverlap":false}},"y2":{"field":"y2"},"color":{"field":"k","type":"nominal","legend":null,"scale":{"domain":["r","s","p","w","l","m","d","R","B"],"range":["#AE3F51","#E08470","#FACDB8","#F6F6F6","#C0DDEA","#6EABD1","#4576AB","#FF0000","#0000E0"]}}}},
{"data":{"name":"pts"},"mark":{"type":"point","filled":true,"clip":true,"size":42,"opacity":1,"stroke":"#222","strokeWidth":1},"encoding":{"x":{"field":"x","type":"quantitative","axis":{"title":"Tension","values":[0,200,400,600,800,1000,1200,1400],"format":"d"}},"y":{"field":"y","type":"quantitative","axis":{"title":"accumulated__CellArea","values":[10000,20000,30000,40000,50000,60000,70000],"format":"d","titlePadding":10,"labelOverlap":false}},"color":{"field":"k","type":"nominal"}}}
]}
]}
